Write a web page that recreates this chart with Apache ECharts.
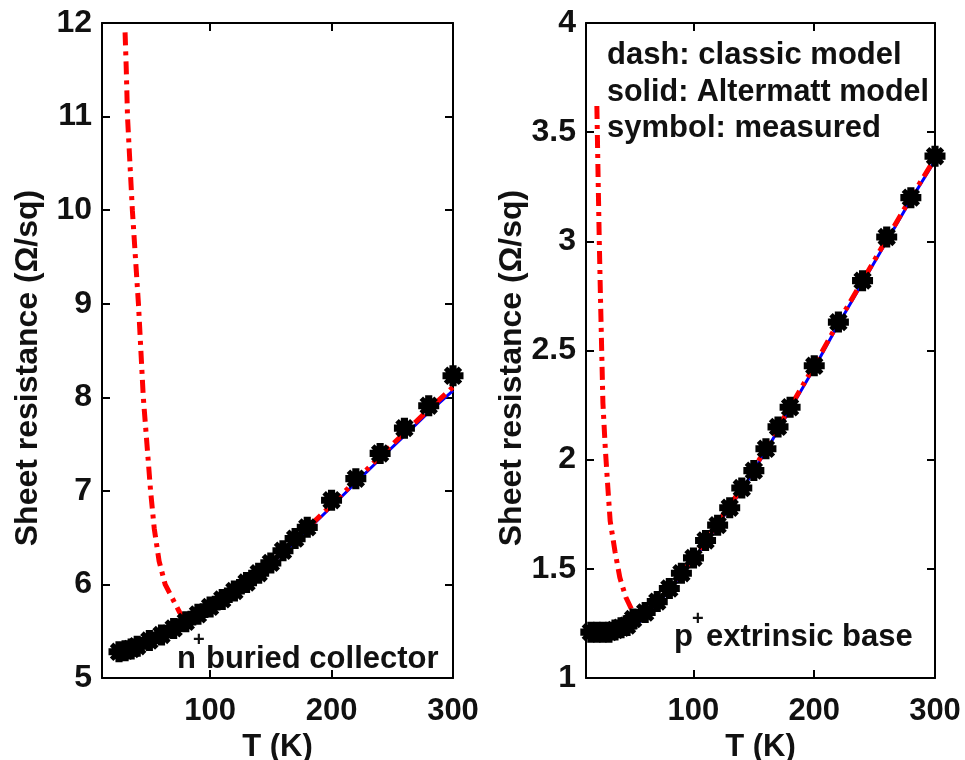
<!DOCTYPE html>
<html>
<head>
<meta charset="utf-8">
<script src="https://cdn.jsdelivr.net/npm/echarts@6/dist/echarts.min.js"></script>
<style>
html,body{margin:0;padding:0;background:#fff;}
#chart{width:965px;height:760px;}
</style>
</head>
<body>
<div id="chart"></div>
<script>
// ---------- data ----------
const xTicks = [100, 200, 300];

// Left panel: n+ buried collector
const leftMeasT = [25, 30, 35, 40, 50, 60, 70, 80, 90, 100, 110, 120, 130, 140, 150, 160, 170, 180, 200, 220, 240, 260, 280, 300];
const leftMeasR = [5.28, 5.29, 5.31, 5.34, 5.40, 5.46, 5.53, 5.60, 5.68, 5.76, 5.84, 5.93, 6.02, 6.12, 6.23, 6.36, 6.49, 6.61, 6.90, 7.13, 7.40, 7.67, 7.91, 8.23];
const leftAltT = [25, 30, 40, 50, 60, 70, 80, 90, 100, 120, 140, 160, 180, 200, 220, 240, 260, 280, 300];
const leftAltR = [5.27, 5.28, 5.32, 5.38, 5.45, 5.52, 5.60, 5.67, 5.75, 5.92, 6.11, 6.33, 6.58, 6.83, 7.09, 7.34, 7.59, 7.84, 8.07];
const leftClassicT = [30, 31, 32, 34, 36, 38.5, 41, 43, 45, 48, 51, 54, 58, 63, 69, 75, 80, 90, 100, 120, 140, 160, 180, 200, 220, 240, 260, 280, 300];
const leftClassicR = [11.9, 11.5, 11.0, 10.5, 10.0, 9.5, 9.0, 8.5, 8.0, 7.5, 7.0, 6.6, 6.25, 6.0, 5.85, 5.7, 5.62, 5.68, 5.76, 5.93, 6.12, 6.35, 6.60, 6.85, 7.11, 7.37, 7.62, 7.87, 8.11];

// Right panel: p+ extrinsic base
const rightMeasT = [15, 20, 25, 30, 35, 40, 45, 50, 60, 70, 80, 90, 100, 110, 120, 130, 140, 150, 160, 170, 180, 200, 220, 240, 260, 280, 300];
const rightMeasR = [1.21, 1.21, 1.21, 1.21, 1.22, 1.23, 1.24, 1.27, 1.30, 1.35, 1.41, 1.48, 1.55, 1.63, 1.70, 1.78, 1.87, 1.95, 2.05, 2.15, 2.24, 2.43, 2.63, 2.82, 3.02, 3.20, 3.39];
const rightAltT = [15, 20, 30, 40, 50, 60, 70, 80, 90, 100, 120, 140, 160, 180, 200, 220, 240, 260, 280, 300];
const rightAltR = [1.20, 1.20, 1.20, 1.21, 1.23, 1.28, 1.34, 1.40, 1.47, 1.54, 1.70, 1.86, 2.04, 2.23, 2.42, 2.62, 2.81, 3.00, 3.19, 3.37];
const rightClassicT = [20, 21, 22, 23, 24, 25, 27, 29, 31, 35, 39, 44, 50, 55, 60, 70, 80, 90, 100, 120, 140, 160, 180, 200, 220, 240, 260, 280, 300];
const rightClassicR = [3.62, 3.30, 3.00, 2.74, 2.50, 2.26, 2.05, 1.88, 1.72, 1.58, 1.46, 1.37, 1.30, 1.28, 1.30, 1.35, 1.41, 1.48, 1.55, 1.71, 1.87, 2.05, 2.24, 2.43, 2.63, 2.82, 3.01, 3.20, 3.38];

const legendLines = ['dash: classic model', 'solid: Altermatt model', 'symbol: measured'];
const yTitle = 'Sheet resistance (\u03A9/sq)';
const xTitle = 'T (K)';

// ---------- helpers ----------
const zip = (xs, ys) => xs.map((x, i) => [x, ys[i]]);
const FONT = 'Liberation Sans, Arial, sans-serif';
const TXT = '#111';
const star = 'path://M-1.7,-5 L1.7,-5 L1.7,5 L-1.7,5 Z M-5,-1.7 L5,-1.7 L5,1.7 L-5,1.7 Z ' +
  'M-2.69,-4.38 L4.38,2.69 L2.69,4.38 L-4.38,-2.69 Z M-4.38,2.69 L2.69,-4.38 L4.38,-2.69 L-2.69,4.38 Z';

function xAxes(gi) {
  const line = {onZero: false, lineStyle: {color: '#000', width: 2}};
  const tick = {inside: true, length: 8, lineStyle: {color: '#000', width: 2}, customValues: xTicks};
  return [
    {gridIndex: gi, type: 'value', min: 11, max: 300, position: 'bottom',
     axisLine: line, axisTick: tick, splitLine: {show: false},
     axisLabel: {customValues: xTicks, fontSize: 31, fontWeight: 'bold', color: TXT, fontFamily: FONT, margin: 18},
     name: xTitle, nameLocation: 'middle', nameGap: 48,
     nameTextStyle: {fontSize: 31, fontWeight: 'bold', color: TXT, fontFamily: FONT}},
    {gridIndex: gi, type: 'value', min: 11, max: 300, position: 'top',
     axisLine: line, axisTick: tick, splitLine: {show: false}, axisLabel: {show: false}}
  ];
}
function yAxes(gi, min, max, interval) {
  const line = {onZero: false, lineStyle: {color: '#000', width: 2}};
  const tick = {inside: true, length: 8, lineStyle: {color: '#000', width: 2}};
  return [
    {gridIndex: gi, type: 'value', min: min, max: max, interval: interval, position: 'left',
     axisLine: line, axisTick: tick, splitLine: {show: false},
     axisLabel: {fontSize: 32, fontWeight: 'bold', color: TXT, fontFamily: FONT, margin: 10}},
    {gridIndex: gi, type: 'value', min: min, max: max, interval: interval, position: 'right',
     axisLine: line, axisTick: tick, splitLine: {show: false}, axisLabel: {show: false}}
  ];
}
function seriesSet(xi, yi, altT, altR, clsT, clsR, mT, mR) {
  return [
    {type: 'line', xAxisIndex: xi, yAxisIndex: yi, data: zip(altT, altR), showSymbol: false,
     lineStyle: {color: '#0000ff', width: 3}, z: 2},
    {type: 'line', xAxisIndex: xi, yAxisIndex: yi, data: zip(clsT, clsR), showSymbol: false,
     lineStyle: {color: '#ff0000', width: 5, type: [13, 6, 4, 6], cap: 'butt'}, z: 3},
    {type: 'scatter', xAxisIndex: xi, yAxisIndex: yi, data: zip(mT, mR), symbol: star, symbolSize: 21,
     itemStyle: {color: '#000', opacity: 1}, z: 4}
  ];
}

const chart = echarts.init(document.getElementById('chart'));
const textAt = (x, y, text, size) => ({
  type: 'text', left: x, top: y,
  style: {text: text, fontSize: size, fontWeight: 'bold', fill: TXT, fontFamily: FONT}
});
const vTitle = (cx, cy) => ({
  type: 'text', x: cx, y: cy, rotation: Math.PI / 2,
  style: {text: yTitle, fontSize: 32, fontWeight: 'bold', fill: TXT, fontFamily: FONT,
          align: 'center', verticalAlign: 'middle'}
});

chart.setOption({
  animation: false,
  backgroundColor: '#fff',
  grid: [
    {left: 102, right: 512, top: 23, bottom: 82, outerBoundsMode: 'none', containLabel: false},
    {left: 586, right: 30, top: 23, bottom: 82, outerBoundsMode: 'none', containLabel: false}
  ],
  xAxis: [...xAxes(0), ...xAxes(1)],
  yAxis: [...yAxes(0, 5, 12, 1), ...yAxes(1, 1, 4, 0.5)],
  series: [
    ...seriesSet(0, 0, leftAltT, leftAltR, leftClassicT, leftClassicR, leftMeasT, leftMeasR),
    ...seriesSet(2, 2, rightAltT, rightAltR, rightClassicT, rightClassicR, rightMeasT, rightMeasR)
  ],
  graphic: [
    vTitle(28, 368),
    vTitle(512, 368),
    textAt(607, 40, legendLines[0], 31),
    textAt(607, 77, legendLines[1], 30.5),
    textAt(607, 113, legendLines[2], 31),
    textAt(177, 644, 'n', 31),
    textAt(193, 630, '+', 20),
    textAt(206, 644, 'buried collector', 31),
    textAt(674, 622, 'p', 31),
    textAt(692, 609, '+', 20),
    textAt(706, 622, 'extrinsic base', 31)
  ]
});
</script>
</body>
</html>
